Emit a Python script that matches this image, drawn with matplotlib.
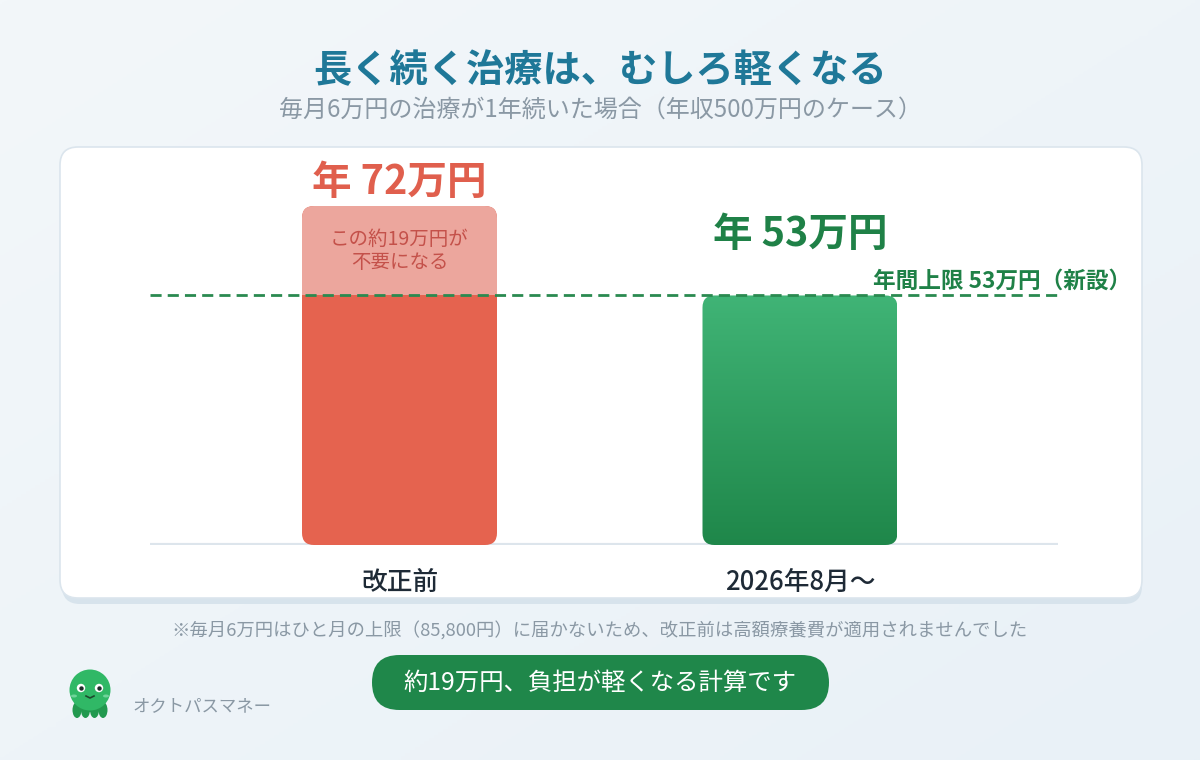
import numpy as np
import matplotlib
matplotlib.use("Agg")
import matplotlib.pyplot as plt
from matplotlib.patches import FancyBboxPatch, Circle, Ellipse
from matplotlib.colors import LinearSegmentedColormap

plt.rcParams['font.family'] = ['Noto Sans CJK JP', 'DejaVu Sans']

# data
categories = ['改正前', '2026年8月～']
costs = [72, 53]            # 万円 / 年
annual_cap = 53             # 年間上限 (新設)
saving = costs[0] - costs[1]
value_labels = ['年 72万円', '年 53万円']

title = '長く続く治療は、むしろ軽くなる'
subtitle = '毎月6万円の治療が1年続いた場合（年収500万円のケース）'
footnote = '※毎月6万円はひと月の上限（85,800円）に届かないため、改正前は高額療養費が適用されませんでした'
pill_text = '約19万円、負担が軽くなる計算です'
brand = 'オクトパスマネー'

RED = '#e5634f'
RED_LIGHT = '#eca69d'
GREEN_DARK = '#1f874a'
GREEN_LIGHT = '#40b476'
TITLE_C = '#1f7898'
GRAY = '#8a98a4'

W, H = 1200, 760
fig = plt.figure(figsize=(12, 7.6), dpi=100)

# background layer in pixel coordinates
bg = fig.add_axes([0, 0, 1, 1])
bg.set_xlim(0, W)
bg.set_ylim(H, 0)
bg.axis('off')
grad = np.linspace(0, 1, 256).reshape(1, -1) * 0.5 + np.linspace(0, 1, 256).reshape(-1, 1) * 0.5
bg_cmap = LinearSegmentedColormap.from_list('bg', ['#f3f7fa', '#e9f1f7'])
bg.imshow(grad, cmap=bg_cmap, extent=[0, W, H, 0], aspect='auto', zorder=0)

# card with shadow
bg.add_patch(FancyBboxPatch((62, 154), 1080, 450, boxstyle='round,pad=0,rounding_size=18',
                            fc='#d7e3ec', ec='none', zorder=1))
bg.add_patch(FancyBboxPatch((60, 147), 1082, 451, boxstyle='round,pad=0,rounding_size=18',
                            fc='white', ec='#dbe5ed', lw=1.2, zorder=2))

bg.text(600, 71, title, ha='center', va='center', fontsize=27.5, fontweight='bold', color=TITLE_C, zorder=3)
bg.text(600, 110, subtitle, ha='center', va='center', fontsize=17.3, color=GRAY, zorder=3)
bg.text(600, 631, footnote, ha='center', va='center', fontsize=13.2, color=GRAY, zorder=3)

# pill
bg.add_patch(FancyBboxPatch((372, 655), 457, 55, boxstyle='round,pad=0,rounding_size=27.5',
                            fc=GREEN_DARK, ec='none', zorder=3))
bg.text(600, 683, pill_text, ha='center', va='center', fontsize=17.6, color='white', zorder=4)

# octopus logo
for dx in (-13, -4.5, 4.5, 13):
    bg.add_patch(Ellipse((90 + dx, 710), 9, 16, fc='#22994f', ec='none', zorder=3))
bg.add_patch(Ellipse((90, 704), 30, 16, fc='#23984f', ec='none', zorder=3))
bg.add_patch(Circle((90, 690), 20.5, fc='#30b866', ec='none', zorder=4))
for ex in (81, 99):
    bg.add_patch(Circle((ex, 688), 4.2, fc='white', ec='none', zorder=5))
    bg.add_patch(Circle((ex + 0.5, 688.5), 2.2, fc='#1d2b2a', ec='none', zorder=6))
    bg.add_patch(Ellipse((ex + (-7 if ex < 90 else 7), 696), 6, 3, fc='#6fd49a', ec='none', zorder=5))
bg.plot([86, 90, 94], [696, 698, 696], color='#1d4a2e', lw=1.2, zorder=6)
bg.text(133, 706, brand, ha='left', va='center', fontsize=12.5, color=GRAY, zorder=3)

# chart axes: x 150..1058 px, y 150..545 px
px_per_x = 400.5
px_per_y = 339 / 72
x_left = 150
x_right = 1058
y_top, y_base = 150, 545
ax = fig.add_axes([x_left / W, 1 - y_base / H, (x_right - x_left) / W, (y_base - y_top) / H])
ax.patch.set_alpha(0)
for s in ax.spines.values():
    s.set_visible(False)
ax.set_xticks([])
ax.set_yticks([])

x = np.arange(len(categories))
bw = 195 / px_per_x
r = 12 / px_per_x
asp = px_per_x / px_per_y

ax.axhline(0, color='#dde5ec', lw=3, zorder=1)

# before: lower part up to cap, upper part is the removed amount
lower = FancyBboxPatch((x[0] - bw / 2, 0), bw, costs[0], boxstyle=f'round,pad=0,rounding_size={r}',
                       mutation_aspect=asp, fc=RED, ec='none', zorder=2)
ax.add_patch(lower)
top_img = ax.imshow(np.array([[1]]), cmap=LinearSegmentedColormap.from_list('t', [RED_LIGHT, RED_LIGHT]),
                    extent=[x[0] - bw / 2, x[0] + bw / 2, annual_cap, costs[0]], aspect='auto', zorder=3)
top_img.set_clip_path(lower)

# after: gradient bar
green = FancyBboxPatch((x[1] - bw / 2, 0), bw, costs[1], boxstyle=f'round,pad=0,rounding_size={r}',
                       mutation_aspect=asp, fc='none', ec='none', zorder=2)
ax.add_patch(green)
g = np.linspace(0, 1, 200).reshape(-1, 1)
gimg = ax.imshow(g, cmap=LinearSegmentedColormap.from_list('g', [GREEN_DARK, GREEN_LIGHT]), origin='lower',
                 extent=[x[1] - bw / 2, x[1] + bw / 2, 0, costs[1]], aspect='auto', zorder=2)
gimg.set_clip_path(green)

ax.set_xlim(-(399.5 - x_left) / px_per_x, 1 + (x_right - 800) / px_per_x)
ax.set_ylim(0, (y_base - y_top) / px_per_y)

# annual cap line
ax.axhline(annual_cap, color='#2a8a50', lw=2, ls=(0, (4, 2.2)), zorder=5)
ax.annotate('年間上限 53万円（新設）', xy=(ax.get_xlim()[1], annual_cap), xytext=(73, 14),
            textcoords='offset pixels', ha='right', va='center', fontsize=16.3, fontweight='semibold',
            color='#1f8147', annotation_clip=False, zorder=6)

# value labels
ax.annotate(value_labels[0], xy=(x[0], costs[0]), xytext=(0, 23), textcoords='offset pixels',
            ha='center', va='center', fontsize=28.5, fontweight='bold', color='#e05f4d', annotation_clip=False)
ax.annotate(value_labels[1], xy=(x[1], costs[1]), xytext=(0, 61), textcoords='offset pixels',
            ha='center', va='center', fontsize=28.5, fontweight='bold', color='#1f8147', annotation_clip=False)
ax.text(x[0], annual_cap + saving / 2, f'この約{saving}万円が\n不要になる', ha='center', va='center',
        fontsize=14, color='#c4514a', linespacing=1.1, zorder=6)

for xi, c in zip(x, categories):
    ax.annotate(c, xy=(xi, 0), xytext=(0, -37), textcoords='offset pixels', ha='center', va='center',
                fontsize=18.5, fontweight='medium', color='#1e2a36', annotation_clip=False)

fig.savefig('out.png', dpi=100)
